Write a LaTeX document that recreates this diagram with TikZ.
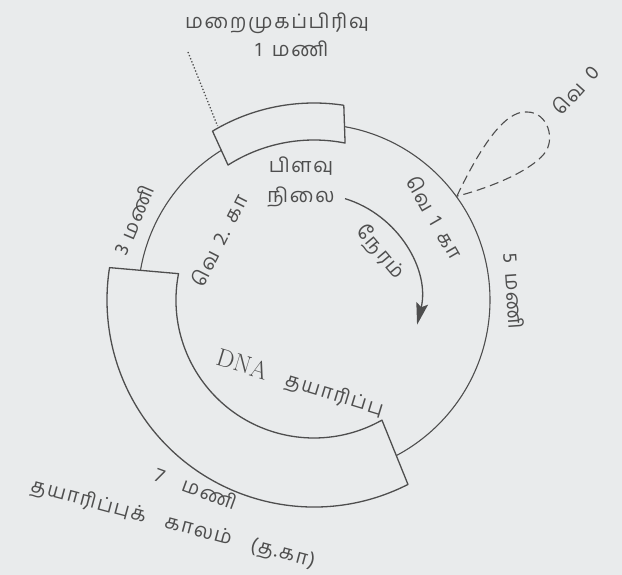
\documentclass[tikz,border=0pt]{standalone}
\usepackage{fontspec}
\newfontfamily\tamil[Script=Tamil,LetterSpace=8]{Hind Madurai}
\usetikzlibrary{arrows.meta}
\definecolor{paper}{RGB}{233,235,236}
\definecolor{ink}{RGB}{78,78,78}

\begin{document}
\begin{tikzpicture}[
    x=1pt, y=1pt,
    cycleline/.style={draw=ink, line width=1.1pt},
    phasebox/.style={draw=ink, fill=paper, line width=1.3pt, line join=round},
    tamtext/.style={text=ink, font=\tamil\fontsize{20}{30}\selectfont, inner sep=1pt},
    loopline/.style={draw=ink, line width=1.1pt, dash pattern=on 9pt off 5pt},
    timearrow/.style={draw=ink, line width=1.3pt, -{Stealth[length=22pt,width=12pt,inset=4pt]}}
]

% Page
\fill[paper] (-314,-275) rectangle (308,300);

% Cycle
\node[circle, cycleline, minimum size=352pt, inner sep=0pt] (cycle) at (0,0) {};

% Phase bands
\draw[phasebox] (169:138) arc[start angle=169, end angle=299.5, radius=138]
    -- (297:207) arc[start angle=297, end angle=171, radius=207] -- cycle;
\draw[phasebox] (122.5:160) arc[start angle=122.5, end angle=78.8, radius=160]
    -- (81.3:197) arc[start angle=81.3, end angle=121, radius=197] -- cycle;

% G0 loop
\draw[loopline] (cycle.36) .. controls (165,150) and (190,190) .. (213,188)
    .. controls (234,188) and (242,160) .. (230,146)
    .. controls (215,128) and (175,112) .. (cycle.36);

% Time arrow
\draw[timearrow] (73:106) arc[start angle=73, end angle=-13.5, radius=106];

% Labels
\node[tamtext] (mitosis) at (-37,277) {மறைமுகப்பிரிவு};
\node[tamtext] (mitosishr) at (-22,251) {1\enspace மணி};
\coordinate (leadtop) at (-126,248);
\draw[ink, dotted, line width=1.3pt] (leadtop) -- (119:199);

\node[tamtext, align=center] (mphase) at (-13,118) {பிளவு\\நிலை};
\node[tamtext, rotate=-50] (time) at (66,48) {நேரம்};
\node[tamtext, rotate=48] (gzero) at (261,210) {வெ\enspace 0};
\node[tamtext, rotate=-60] (gone) at (121,83) {வெ\enspace 1\enspace கா};
\node[tamtext, rotate=-86] (gonehr) at (200,9) {5\enspace மணி};
\node[tamtext, rotate=63] (gtwo) at (-95,60) {வெ\enspace 2.\enspace கா};
\node[tamtext, rotate=67] (gtwohr) at (-180,80) {3 மணி};
\node[tamtext, rotate=-17] (sphase) at (-14,-84) {{\rmfamily\fontsize{25}{30}\selectfont DNA}\quad தயாரிப்பு};
\node[tamtext, rotate=-20] (shr) at (-118,-188) {7\quad மணி};
\node[tamtext, rotate=-15] (speriod) at (-141,-224) {தயாரிப்புக்\quad காலம்\quad (த.கா)};

\end{tikzpicture}
\end{document}
